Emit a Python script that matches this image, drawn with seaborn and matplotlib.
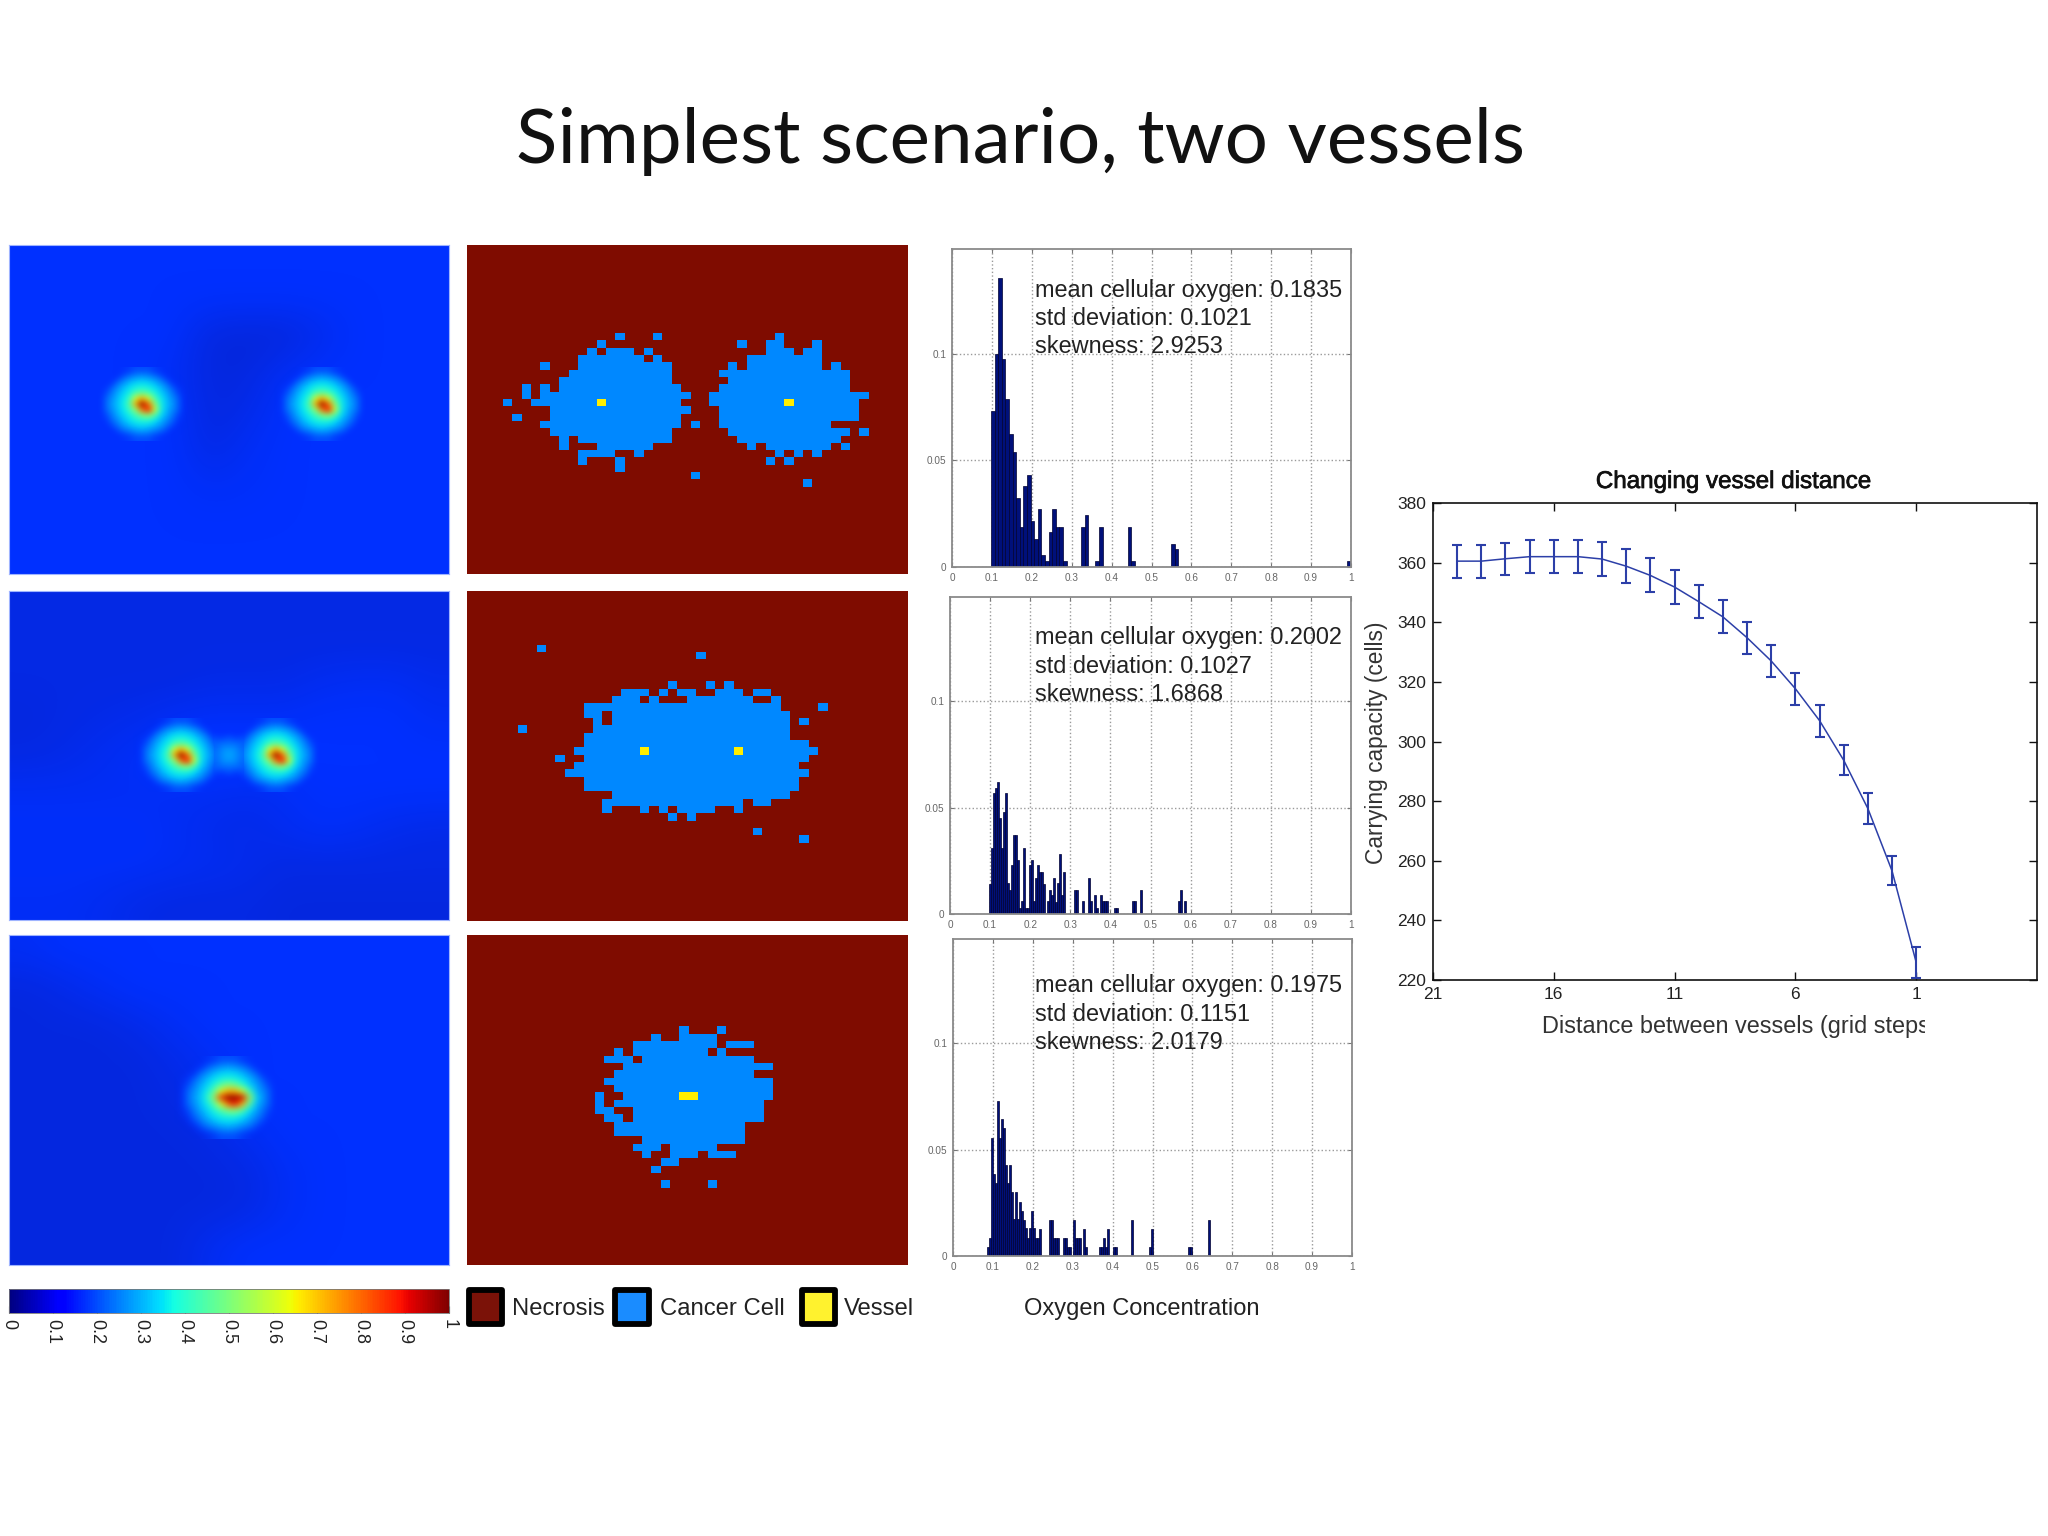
import numpy as np
import pandas as pd
import matplotlib
matplotlib.use("Agg")
import matplotlib.pyplot as plt
import matplotlib.patheffects as pe
from matplotlib.colors import ListedColormap, LinearSegmentedColormap
from matplotlib.cm import ScalarMappable
from matplotlib.colors import Normalize
from matplotlib.patches import Rectangle
from matplotlib.transforms import Bbox
import seaborn as sns

# ---------- data ----------
TITLE = "Simplest scenario, two vessels"

# oxygen background read on a coarse 12 x 9 grid
oxygen_bg_1 = [
    [.17]*12,
    [.17]*12,
    [.17,.17,.17,.17,.17,.10,.09,.09,.13,.17,.17,.17],
    [.17,.17,.17,.17,.15,.10,.10,.15,.17,.17,.17,.17],
    [.17,.17,.17,.17,.17,.10,.12,.17,.17,.17,.17,.17],
    [.17,.17,.17,.17,.17,.11,.15,.17,.17,.17,.17,.17],
    [.17,.17,.17,.17,.17,.15,.16,.17,.17,.17,.17,.17],
    [.17]*12,
    [.17]*12,
]
oxygen_bg_2 = [
    [.11]*12,
    [.11]*12,
    [.11,.11,.11,.11,.11,.12,.12,.12,.14,.15,.15,.13],
    [.10,.11,.12,.13,.15,.16,.16,.16,.17,.17,.17,.15],
    [.11,.12,.14,.16,.18,.19,.19,.18,.17,.17,.17,.17],
    [.15,.15,.15,.15,.15,.15,.14,.15,.17,.17,.17,.17],
    [.16,.16,.16,.16,.15,.13,.12,.14,.16,.15,.13,.12],
    [.16,.16,.16,.16,.15,.14,.13,.11,.11,.11,.11,.11],
    [.15,.15,.14,.12,.11,.11,.11,.10,.10,.10,.10,.10],
]
oxygen_bg_3 = [
    [.15,.17,.17,.17,.17,.17,.17,.17,.17,.17,.17,.17],
    [.10,.12,.15,.17,.17,.17,.17,.17,.17,.17,.17,.17],
    [.10,.10,.10,.12,.15,.17,.17,.17,.17,.17,.17,.17],
    [.10,.10,.10,.10,.12,.15,.17,.17,.17,.17,.17,.17],
    [.10,.10,.10,.10,.11,.13,.17,.17,.17,.17,.17,.17],
    [.10,.10,.10,.10,.10,.11,.14,.17,.17,.17,.17,.17],
    [.10,.10,.10,.10,.10,.10,.11,.15,.17,.17,.17,.17],
    [.10,.10,.10,.10,.10,.10,.11,.15,.17,.17,.17,.17],
    [.10,.10,.10,.10,.10,.14,.17,.17,.17,.17,.17,.17],
]
hotspot = [
    [17,17,17,17,18,19,20,20,20,19,18,17,17,17,17],
    [17,17,17,18,20,23,25,26,25,23,20,18,17,17,17],
    [17,17,18,21,25,29,32,33,32,29,25,21,18,17,17],
    [17,18,20,25,30,34,37,38,37,34,30,25,20,18,17],
    [17,19,23,28,33,37,43,46,43,38,33,28,23,19,17],
    [17,20,25,30,35,41,60,72,60,44,36,30,25,20,17],
    [17,20,26,31,36,44,72,98,80,52,37,31,26,20,17],
    [17,20,25,30,35,41,52,78,88,60,37,30,25,20,17],
    [17,19,23,28,33,37,42,48,52,44,34,28,23,19,17],
    [17,18,21,25,30,34,37,38,38,35,30,25,21,18,17],
    [17,17,19,22,26,29,32,33,32,29,26,22,19,17,17],
    [17,17,17,19,21,23,25,26,25,23,21,19,17,17,17],
    [17,17,17,17,18,19,20,20,20,19,18,17,17,17,17],
]
hotspot_wide = [
    [17,17,17,17,18,19,20,20,20,19,18,17,17,17,17],
    [17,17,17,18,20,23,25,26,25,23,20,18,17,17,17],
    [17,17,18,21,25,29,32,33,32,29,25,21,18,17,17],
    [17,18,20,25,30,34,37,38,37,34,30,25,20,18,17],
    [17,19,23,28,33,38,45,50,47,40,33,28,23,19,17],
    [17,20,25,30,36,45,62,72,72,60,42,30,25,20,17],
    [17,20,26,31,38,52,85,98,98,92,55,33,26,20,17],
    [17,20,25,30,36,44,60,80,88,72,45,31,25,20,17],
    [17,19,23,28,33,38,44,50,52,45,35,28,23,19,17],
    [17,18,21,25,30,34,37,38,38,35,30,25,21,18,17],
    [17,17,19,22,26,29,32,33,32,29,26,22,19,17,17],
    [17,17,17,19,21,23,25,26,25,23,21,19,17,17,17],
    [17,17,17,17,18,19,20,20,20,19,18,17,17,17,17],
]
# glow between the two close vessels in the middle panel
hotspot_bridge = [
    [17,17,17,17,17],
    [19,19,20,19,19],
    [22,23,23,23,22],
    [23,26,27,26,23],
    [24,27,29,27,24],
    [23,26,27,26,23],
    [22,23,23,23,22],
    [19,19,20,19,19],
    [17,17,17,17,17],
]

# cancer cells: grid row -> runs of columns [start, end)
cells_1 = {
    12:[(16,17),(20,21),(33,34)], 13:[(14,15),(29,30),(32,34),(37,38)],
    14:[(13,14),(15,18),(19,20),(32,35),(36,38)], 15:[(12,19),(20,21),(30,38)],
    16:[(8,9),(12,22),(28,29),(30,38),(39,40)], 17:[(11,22),(27,41)],
    18:[(10,22),(28,41)], 19:[(6,7),(8,9),(10,23),(27,41)],
    20:[(6,7),(8,24),(26,43)], 21:[(4,5),(7,23),(26,42)],
    22:[(9,24),(27,42)], 23:[(5,6),(9,23),(27,42)],
    24:[(8,23),(24,25),(27,39)], 25:[(9,22),(28,41),(42,43)],
    26:[(10,11),(12,22),(29,40)], 27:[(10,11),(14,20),(30,31),(32,39),(40,41)],
    28:[(12,16),(18,19),(33,34),(35,36),(37,38)], 29:[(12,13),(16,17),(32,33),(34,35)],
    30:[(16,17)], 31:[(24,25)], 32:[(36,37)],
}
cells_2 = {
    7:[(8,9)], 8:[(25,26)], 12:[(22,23),(26,27),(28,29)],
    13:[(17,20),(21,22),(23,25),(27,30),(31,33)],
    14:[(16,19),(20,21),(24,31),(33,34)], 15:[(13,34),(38,39)],
    16:[(13,15),(16,35)], 17:[(14,15),(16,35),(36,37)],
    18:[(6,7),(14,35)], 19:[(13,35)], 20:[(13,37)], 21:[(12,38)],
    22:[(10,11),(13,37)], 23:[(12,36)], 24:[(11,37)], 25:[(13,36)],
    26:[(13,36)], 27:[(16,35)], 28:[(15,30),(31,33)],
    29:[(15,16),(19,20),(21,22),(23,27),(29,30)], 30:[(22,23),(24,25)],
    32:[(31,32)], 33:[(36,37)],
}
cells_3 = {
    12:[(23,24),(27,28)], 13:[(20,21),(23,27)], 14:[(18,27),(28,31)],
    15:[(16,17),(18,26),(27,28)], 16:[(15,18),(19,31)], 17:[(17,33)],
    18:[(16,31)], 19:[(15,33)], 20:[(16,33)], 21:[(14,15),(17,33)],
    22:[(14,15),(16,32)], 23:[(14,16),(18,32)], 24:[(15,17),(18,32)],
    25:[(16,30)], 26:[(16,30)], 27:[(19,30)], 28:[(18,21),(22,27)],
    29:[(19,20),(22,25),(26,29)], 30:[(21,23)], 31:[(20,21)], 33:[(21,22),(26,27)],
}
vessels_1 = [(21,14),(21,34)]
vessels_2 = [(21,19),(21,29)]
vessels_3 = [(21,23),(21,24)]

# histograms: bin index and bar height
hist1_bins = list(range(21)) + [25,26,29,30,38,39,50,51,99]
hist1_vals = [.0733,.100,.1355,.0976,.0788,.0623,.054,.0325,.0188,.038,.0432,.0217,.0133,.027,
              .0055,.0027,.0162,.027,.0188,.0188,.0027,
              .0188,.0243,.0027,.0188,.0188,.0027,.011,.0082,.0027]
hist2_bins = list(range(38)) + [42,43,46,49,50,52,53,55,56,57,58,62,63,71,72,75,94,95,97]
hist2_vals = [.0141,.031,.0567,.059,.062,.045,.031,.048,.0567,.0146,.0115,.0228,.0369,.0369,.0253,
              .0028,.006,.031,.003,.003,.0228,.0256,.006,.017,.0228,.0196,.0196,.014,0,.006,.0115,
              .0088,.017,.0057,.0146,.0283,.0088,.0196,
              .0115,.0115,.006,.017,.006,.0088,.003,.0088,.006,.006,.006,.003,.003,.006,.006,.0115,.006,.0115,.006]
hist3_bins = list(range(27)) + [31,32,33,34,35,38,39,40,41,43,44,45,46,48,49,56,57,58,59,60,63,64,72,81,82,101,102,111]
hist3_vals = [.004,.0083,.0555,.0385,.0343,.0728,.0555,.0642,.06,.043,.0343,.043,.03,.0173,.03,.0173,
              .0256,.0212,.017,.013,.0083,.013,.0212,.013,.0083,.0083,.0127,
              .017,.017,.0083,.0083,.0083,.0083,.0083,.004,.004,.017,.0083,.0083,.0083,.0127,.004,
              .004,.004,.0083,.004,.0127,.004,.004,.017,.004,.0127,.004,.004,.017]
hist_stats = [
    ["mean cellular oxygen: 0.1835", "std deviation: 0.1021", "skewness: 2.9253"],
    ["mean cellular oxygen: 0.2002", "std deviation: 0.1027", "skewness: 1.6868"],
    ["mean cellular oxygen: 0.1975", "std deviation: 0.1151", "skewness: 2.0179"],
]
hist_xticks = [0,.1,.2,.3,.4,.5,.6,.7,.8,.9,1]
hist_xlabels = ["0","0.1","0.2","0.3","0.4","0.5","0.6","0.7","0.8","0.9","1"]
hist_yticks = [0,.05,.1]
hist_ylabels = ["0","0.05","0.1"]

# carrying capacity curve
distance = [20,19,18,17,16,15,14,13,12,11,10,9,8,7,6,5,4,3,2,1]
capacity = [360.5,360.5,361.3,362,362,362,361.2,358.8,355.7,351.8,346.9,341.8,334.8,327,
            317.7,307,293.7,277.5,256.6,225.9]
cap_err = [5.5,5.5,5.3,5.6,5.6,5.6,5.6,5.8,5.7,5.8,5.6,5.5,5.4,5.4,5.35,5.35,5.1,5.1,4.9,5.2]
dist_ticks = [21,16,11,6,1]
cap_ticks = [220,240,260,280,300,320,340,360,380]

colorbar_ticks = [0,.1,.2,.3,.4,.5,.6,.7,.8,.9,1]
colorbar_labels = ["0","0.1","0.2","0.3","0.4","0.5","0.6","0.7","0.8","0.9","1"]
legend_names = ["Necrosis","Cancer Cell","Vessel"]
legend_colors = ["#7b1208","#1a8cff","#fff22e"]

# ---------- style ----------
sns.set_theme(style="white")
plt.rcParams["font.family"] = ["Liberation Sans", "DejaVu Sans"]
W, H = 2048, 1536
fig = plt.figure(figsize=(W/100, H/100), dpi=100, facecolor="white")

def box(x0, y0, x1, y1):
    return fig.add_axes([x0/W, 1-y1/H, (x1-x0)/W, (y1-y0)/H])

jet = plt.get_cmap("jet")
jet_stops = [.2,.25,.3,.35,.4,.45,.5,.55,.6,.65,.7,.75,.8,.85,.9,.95,1.0]
field_cmap = LinearSegmentedColormap.from_list(
    "field",
    [(0.0,"#00006a"),(.10,"#0528e0"),(.17,"#0030ff")] + [(v, jet(v)) for v in jet_stops],
    N=512)
norm = Normalize(0,1)

def stamp_rgba(stamp):
    v = np.array(stamp)/100
    rgba = field_cmap(norm(v))
    rgba[...,3] = np.clip((v-.17)/.03, 0, 1)
    return rgba

# ---------- oxygen panels ----------
def oxygen_panel(rect, bg, spots, stamp, scale=1.0, bridge=None):
    ax = box(*rect)
    ax.imshow(np.array(bg), extent=(0,440,330,0), cmap=field_cmap, norm=norm,
              aspect="auto", interpolation="bicubic")
    rgba = stamp_rgba(stamp)
    hw, hh = 48*scale, 37*scale
    for cx, cy in spots:
        ax.imshow(rgba, extent=(cx-hw,cx+hw,cy+hh,cy-hh), aspect="auto",
                  interpolation="bicubic", zorder=2)
    if bridge is not None:
        cx = sum(s[0] for s in spots)/len(spots)
        cy = spots[0][1]
        ax.imshow(stamp_rgba(bridge), extent=(cx-15,cx+15,cy+28,cy-28), aspect="auto",
                  interpolation="bicubic", zorder=3)
    ax.set_xlim(0,440); ax.set_ylim(330,0)
    ax.set_xticks([]); ax.set_yticks([])
    for s in ax.spines.values():
        s.set_color("#9fb4ff"); s.set_linewidth(.8)

oxygen_panel((9,245,449,574), oxygen_bg_1, [(132.7,160),(312.7,160)], hotspot)
oxygen_panel((9,591,449,920), oxygen_bg_2, [(172,165),(267,165)], hotspot, bridge=hotspot_bridge)
oxygen_panel((9,935,449,1265), oxygen_bg_3, [(218.7,163)], hotspot_wide, 1.12)

# ---------- cell maps ----------
cell_cmap = ListedColormap(["#7f0c00","#0088ff","#ffee00"])
def cell_panel(rect, runs, vessels, xlim, ylim):
    ax = box(*rect)
    grid = np.zeros((46,49))
    for r, spans in runs.items():
        for a, b in spans:
            grid[r, a:b] = 1
    for r, c in vessels:
        grid[r, c] = 2
    sns.heatmap(grid, cmap=cell_cmap, vmin=0, vmax=2, cbar=False, ax=ax,
                xticklabels=False, yticklabels=False)
    ax.set_facecolor("#7f0c00")
    ax.set_xlim(*xlim); ax.set_ylim(*ylim)

cell_panel((467,245,908,574), cells_1, vessels_1, (.18,47.18), (44.9,0))
cell_panel((467,591,908,921), cells_2, vessels_2, (.57,47.57), (44.68,-.32))
cell_panel((467,935,908,1265), cells_3, vessels_3, (.36,47.36), (44.55,-.45))

# ---------- histograms ----------
def hist_panel(rect, bins, vals, start, width, n, stats, text_y):
    ax = box(*rect)
    centres = [start + (i+.5)*width for i in bins]
    df = pd.DataFrame({"oxygen":centres, "share":vals})
    sns.histplot(data=df, x="oxygen", weights="share", bins=n, binrange=(start,start+n*width),
                 color="#00107a", edgecolor="#000030", linewidth=.5, alpha=1, ax=ax)
    ax.set_xlim(0,1); ax.set_ylim(0,.149)
    ax.set_xlabel(""); ax.set_ylabel("")
    ax.set_xticks(hist_xticks, hist_xlabels)
    ax.set_yticks(hist_yticks, hist_ylabels)
    ax.grid(True, ls=":", color="#9a9a9a", lw=1)
    ax.set_axisbelow(True)
    ax.tick_params(direction="in", length=3, width=.8, color="#777777", labelcolor="#666666",
                   labelsize=7.2, top=True, right=True, bottom=True, left=True, pad=4)
    for s in ax.spines.values():
        s.set_color("#8a8a8a"); s.set_linewidth(1.3)
    for line, y in zip(stats, text_y):
        over_text.append((1035, y, line))

over_text = []
hist_panel((952,249,1351,567), hist1_bins, hist1_vals, .098, .00902, 100, hist_stats[0], (297,325,353))
hist_panel((950,597,1351,914), hist2_bins, hist2_vals, .098, .005, 180, hist_stats[1], (644,673,701))
hist_panel((953,939,1352,1256), hist3_bins, hist3_vals, .085, .005, 180, hist_stats[2], (992,1021,1049))

# ---------- capacity curve ----------
ax = box(1433,503,2037,980)
curve_color = "#2c3fa8"
sns.lineplot(x=distance, y=capacity, color=curve_color, lw=1.1, ax=ax, errorbar=None)
ax.errorbar(distance, capacity, yerr=cap_err, fmt="none", ecolor=curve_color,
            elinewidth=1.5, capsize=3.6, capthick=1.5)
ax.set_xlim(21,-4); ax.set_ylim(220,380)
ax.set_xticks(dist_ticks); ax.set_yticks(cap_ticks)
ax.tick_params(direction="in", length=6, width=1, color="#111111", labelcolor="#222222",
               labelsize=12.5, top=True, right=True, bottom=True, left=True, pad=5)
for s in ax.spines.values():
    s.set_color("#111111"); s.set_linewidth(1.2)

# ---------- colourbar ----------
cax = box(9,1289,449,1313)
cb = fig.colorbar(ScalarMappable(norm=norm, cmap=jet), cax=cax, orientation="horizontal")
cb.set_ticks(colorbar_ticks, labels=colorbar_labels)
cax.tick_params(direction="in", length=5, width=.8, color="#222222", labelcolor="#222222",
                labelsize=13, pad=4)
for t in cax.get_xticklabels():
    t.set_rotation(270); t.set_ha("center"); t.set_va("top")
cb.outline.set_edgecolor("#777777"); cb.outline.set_linewidth(.6)

# ---------- overlay text and legend ----------
ov = fig.add_axes([0,0,1,1], facecolor="none")
ov.set_xlim(0,W); ov.set_ylim(H,0); ov.axis("off")

ov.text(1021, 163, TITLE, fontsize=55, family="Lato", ha="center", va="baseline", color="#111111")
for x, y, s in over_text:
    ov.text(x, y, s, fontsize=16.9, ha="left", va="baseline", color="#222222")
ov.text(1142, 1315, "Oxygen Concentration", fontsize=17, ha="center", va="baseline", color="#222222")

swatches = [(469,502),(615,649),(802,835)]
text_x = [512,660,844]
for (a,b), c, name, tx in zip(swatches, legend_colors, legend_names, text_x):
    ov.add_patch(Rectangle((a,1290), b-a, 34, facecolor=c, edgecolor="black", lw=4.2, joinstyle="round"))
    ov.text(tx, 1315, name, fontsize=17.2, ha="left", va="baseline", color="#222222")

ov.text(1733, 482, "Changing vessel distance", fontsize=17.4, ha="center", va="center", color="#111111",
        path_effects=[pe.withStroke(linewidth=.5, foreground="#111111")])
ov.text(1376, 743, "Carrying capacity (cells)", fontsize=16.4, rotation=90, ha="center", va="center", color="#333333")
xl = ov.text(1542, 1026, "Distance between vessels (grid steps)", fontsize=16.9, ha="left", va="center", color="#333333")
xl.set_clip_on(True)
xl.set_clip_box(Bbox.from_extents(0,0,1925,H))

fig.savefig("out.png", dpi=100, facecolor="white")
